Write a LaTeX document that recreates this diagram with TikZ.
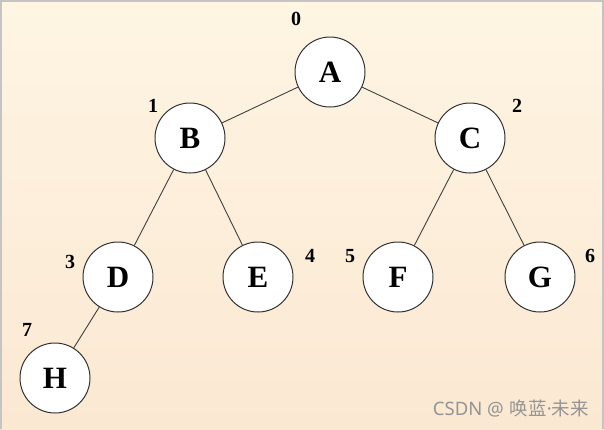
\documentclass[tikz,border=0pt]{standalone}
\usepackage{fontspec}
\setmainfont{Liberation Serif}
\newfontfamily\cjkwm{Noto Sans CJK SC}
\newfontfamily\latwm{Noto Sans}
\definecolor{bgtop}{HTML}{FEF5E3}
\definecolor{bgbot}{HTML}{FBE8D2}
\definecolor{frame}{HTML}{C4C4C4}
\begin{document}
\begin{tikzpicture}[x=1pt,y=-1pt,
  treenode/.style={circle,draw=black!80,line width=1pt,fill=white,minimum size=70pt,inner sep=0pt,font=\fontsize{31}{31}\selectfont\bfseries},
  idx/.style={font=\fontsize{20}{20}\selectfont\bfseries,inner sep=0pt},
  edge/.style={draw=black!75,line width=0.9pt}]
\useasboundingbox (0,0) rectangle (604,429);
\shade[top color=bgtop,bottom color=bgbot] (0,0) rectangle (604,429);
\fill[frame] (0,0) rectangle (2,429);
\fill[frame] (602,0) rectangle (604,429);
\fill[frame] (0,0) rectangle (604,2);
\node[treenode] (A) at (330,72) {A};
\node[treenode] (B) at (190,138) {B};
\node[treenode] (C) at (470,138) {C};
\node[treenode] (D) at (118,277) {D};
\node[treenode] (E) at (258,277) {E};
\node[treenode] (F) at (398,277) {F};
\node[treenode] (G) at (540,277) {G};
\node[treenode] (H) at (55,378) {H};
\path[edge] (A) -- (B);
\path[edge] (A) -- (C);
\path[edge] (B) -- (D);
\path[edge] (B) -- (E);
\path[edge] (C) -- (F);
\path[edge] (C) -- (G);
\path[edge] (D) -- (H);
\node[idx] (l0) at (296,19) {0};
\node[idx] (l1) at (153,106) {1};
\node[idx] (l2) at (517,106) {2};
\node[idx] (l3) at (70,262) {3};
\node[idx] (l4) at (310,256) {4};
\node[idx] (l5) at (350,256) {5};
\node[idx] (l6) at (590,256) {6};
\node[idx] (l7) at (27,330) {7};
\node[font=\fontsize{18.5}{18.5}\selectfont,text=black!42,anchor=east,inner sep=0pt] (wm) at (589,409) {{\latwm CSDN @\hspace{6pt}}{\cjkwm 唤蓝}{\latwm ·}{\cjkwm 未来}};
\end{tikzpicture}
\end{document}
